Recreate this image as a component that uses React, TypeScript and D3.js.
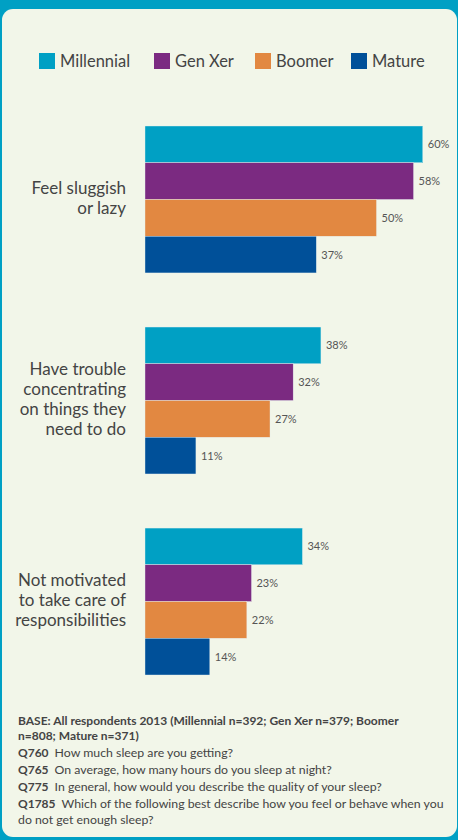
import React from "react";
import * as d3 from "d3";

const categories: string[][] = [
  ["Feel sluggish", "or lazy"],
  ["Have trouble", "concentrating", "on things they", "need to do"],
  ["Not motivated", "to take care of", "responsibilities"],
];
const seriesNames = ["Millennial", "Gen Xer", "Boomer", "Mature"];
const millennial = [60, 38, 34];
const genXer = [58, 32, 23];
const boomer = [50, 27, 22];
const mature = [37, 11, 14];
const valueSeries = [millennial, genXer, boomer, mature];
const colors = ["#00A0C4", "#7B2A81", "#E28841", "#005099"];

const footnotes: { bold: string; text: string }[] = [
  { bold: "BASE: All respondents 2013 (Millennial n=392; Gen Xer n=379; Boomer", text: "" },
  { bold: "n=808; Mature n=371)", text: "" },
  { bold: "Q760", text: "How much sleep are you getting?" },
  { bold: "Q765", text: "On average, how many hours do you sleep at night?" },
  { bold: "Q775", text: "In general, how would you describe the quality of your sleep?" },
  { bold: "Q1785", text: "Which of the following best describe how you feel or behave when you" },
  { bold: "", text: "do not get enough sleep?" },
];
const footBaselines = [725, 740, 757, 774, 791, 808, 824];
const legendX = [39, 154, 255, 351];

const W = 458;
const H = 840;
const FONT = "Lato, 'Open Sans', sans-serif";
const TEXT = "#444444";

export default function App() {
  const x = d3.scaleLinear().domain([0, 100]).range([145, 608]);
  const yGroup = d3
    .scaleBand<number>()
    .domain(d3.range(categories.length))
    .range([126, 675])
    .paddingInner(0.269)
    .paddingOuter(0);
  const yInner = d3
    .scaleBand<number>()
    .domain(d3.range(seriesNames.length))
    .range([0, yGroup.bandwidth()])
    .padding(0);

  return (
    <svg
      width={W}
      height={H}
      style={{ position: "absolute", left: 0, top: 0, display: "block" }}
      fontFamily={FONT}
    >
      <rect x={0} y={0} width={W} height={H} fill="#00A0C4" />
      <rect x={2} y={9} width={455} height={828} rx={11} ry={11} fill="#F2F6E9" />

      {/* legend */}
      {seriesNames.map((s, i) => (
        <g key={s} transform={`translate(${legendX[i]},53)`}>
          <rect x={0} y={0} width={16} height={16} fill={colors[i]} />
          <text x={21} y={13.5} fontSize={16.5} fill={TEXT}>
            {s}
          </text>
        </g>
      ))}

      {/* bars */}
      {categories.map((lines, gi) => {
        const g0 = yGroup(gi)!;
        const center = g0 + yGroup.bandwidth() / 2;
        return (
          <g key={gi}>
            {valueSeries.map((vals, si) => {
              const y0 = g0 + yInner(si)!;
              const v = vals[gi];
              return (
                <g key={si}>
                  <rect
                    x={x(0)}
                    y={y0}
                    width={x(v) - x(0)}
                    height={yInner.bandwidth()}
                    fill={colors[si]}
                    stroke="#E6EEF0"
                    strokeWidth={0.4}
                  />
                  <text
                    x={x(v) + 5}
                    y={y0 + yInner.bandwidth() / 2 + 4}
                    fontSize={11}
                    fill="#555555"
                  >
                    {v}%
                  </text>
                </g>
              );
            })}
            {lines.map((ln, li) => (
              <text
                key={li}
                x={126}
                y={center + (li - (lines.length - 1) / 2) * 20.3 + 4.5}
                textAnchor="end"
                fontSize={17}
                fill={TEXT}
              >
                {ln}
              </text>
            ))}
          </g>
        );
      })}

      {/* footnotes */}
      {footnotes.map((f, i) => (
        <text key={i} x={18} y={footBaselines[i]} fill={TEXT}>
          {f.bold && (
            <tspan fontWeight="bold" fontSize={12}>
              {f.bold}
            </tspan>
          )}
          {f.text && (
            <tspan dx={f.bold ? 6 : 0} fontSize={12.3}>
              {f.text}
            </tspan>
          )}
        </text>
      ))}
    </svg>
  );
}
